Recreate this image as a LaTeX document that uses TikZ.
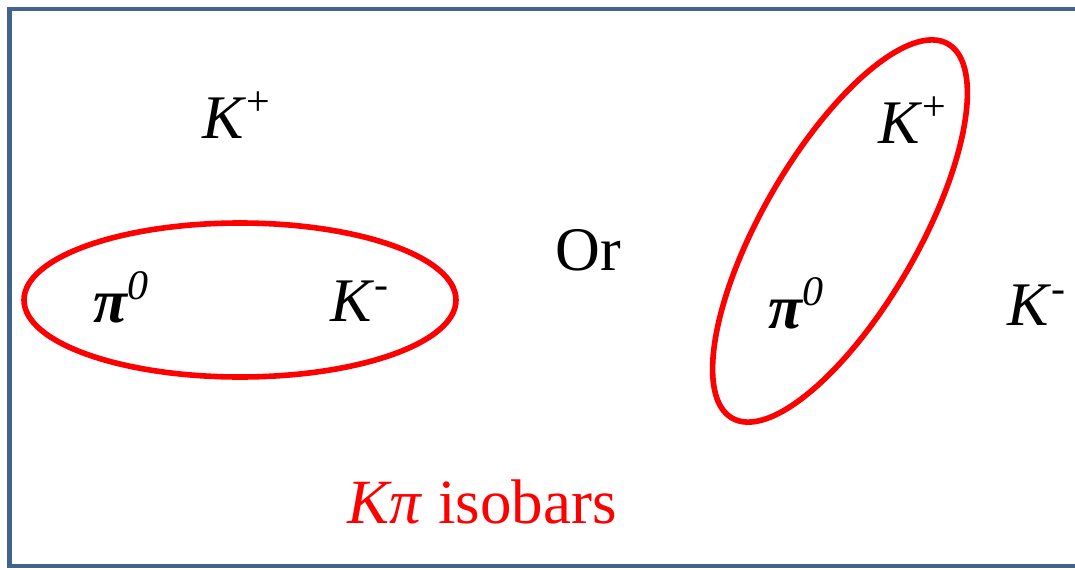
\documentclass[tikz,border=0pt]{standalone}
\usepackage{fontspec}
\setmainfont{Liberation Serif}
\usepackage{xcolor}
\definecolor{framblue}{HTML}{41648F}
\newcommand{\sups}[1]{\raisebox{0.36em}{\fontsize{21}{24}\selectfont #1}}
\newcommand{\kplus}{\textit{K}\sups{+}}
\newcommand{\kminus}{\textit{K}\sups{-}}
\newcommand{\pizero}{{\bfseries\itshape π}\sups{\itshape 0}}

\begin{document}
\begin{tikzpicture}[x=0.5pt,y=0.5pt,
  lbl/.style={inner sep=0pt,anchor=base west,font=\fontsize{31}{36}\selectfont},
  isobar/.style={draw=red,line width=2.8pt}]
\clip (0,0) rectangle (1075,569);
\useasboundingbox (0,0) rectangle (1075,569);
\fill [white] (0,0) rectangle (1075,569);
\draw [framblue,line width=2.4pt] (9.5,3) rectangle (1090,560);
% left picture
\draw [isobar] (240,269) ellipse [x radius=216,y radius=77];
\node[lbl] (kpl) at (202,431) {\kplus};
\node[lbl] (pil) at (93,247) {\pizero};
\node[lbl] (kml) at (330,248) {\kminus};
\node[lbl] (or) at (555,299) {Or};
% right picture
\draw [isobar] (840,338) ellipse [x radius=216,y radius=78,rotate=60];
\node[lbl] (kpr) at (878,426) {\kplus};
\node[lbl] (pir) at (768,241) {\pizero};
\node[lbl] (kmr) at (1007,244) {\kminus};
\node[lbl,text=red,font=\fontsize{31.5}{36}\selectfont] (iso) at (347,46) {\textit{Kπ} isobars};
\end{tikzpicture}
\end{document}
